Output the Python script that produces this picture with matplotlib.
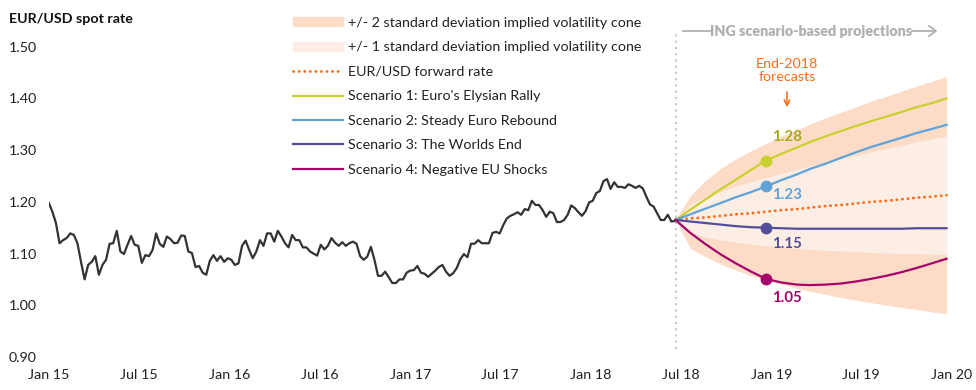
import matplotlib
matplotlib.use("Agg")
import matplotlib.pyplot as plt
from matplotlib.lines import Line2D
from matplotlib.patches import Patch
import pandas as pd

# weekly EUR/USD spot, Jan 2015 - Jun 2018
spot = [
    1.198, 1.181, 1.159, 1.120, 1.126, 1.130, 1.139, 1.136, 1.120, 1.084,
    1.050, 1.078, 1.084, 1.095, 1.059, 1.078, 1.088, 1.119, 1.120, 1.144,
    1.104, 1.099, 1.117, 1.134, 1.117, 1.115, 1.082, 1.097, 1.095, 1.107,
    1.139, 1.119, 1.113, 1.133, 1.128, 1.120, 1.121, 1.135, 1.134, 1.104,
    1.101,
    1.074, 1.076, 1.063, 1.059, 1.086, 1.097, 1.086, 1.095, 1.084, 1.091,
    1.088, 1.078, 1.081, 1.115, 1.125, 1.107, 1.091, 1.104, 1.126, 1.115,
    1.139, 1.139, 1.123, 1.144, 1.133, 1.120, 1.112, 1.136, 1.126, 1.126,
    1.112, 1.112, 1.104, 1.100, 1.096, 1.117, 1.108,
    1.115, 1.130, 1.121, 1.115, 1.122, 1.115, 1.120, 1.123, 1.119, 1.095,
    1.088, 1.094, 1.113, 1.088, 1.057, 1.057, 1.065, 1.054, 1.043, 1.043,
    1.050, 1.050, 1.063, 1.067, 1.068, 1.076, 1.063, 1.061, 1.055, 1.061,
    1.067, 1.074, 1.078, 1.065, 1.057, 1.062, 1.072, 1.089, 1.099, 1.093,
    1.119, 1.119, 1.126, 1.120, 1.120, 1.120, 1.140,
    1.142, 1.139, 1.155, 1.168, 1.173, 1.176, 1.180, 1.175, 1.186, 1.184,
    1.202, 1.194, 1.194, 1.184, 1.171, 1.181, 1.178, 1.161, 1.161, 1.165,
    1.175, 1.193, 1.188, 1.180, 1.173, 1.182, 1.199, 1.202, 1.217, 1.221,
    1.240, 1.244, 1.225, 1.238, 1.229, 1.229, 1.227, 1.234, 1.231, 1.227,
    1.231, 1.226, 1.210, 1.195, 1.191, 1.178, 1.165, 1.165, 1.175, 1.162,
    1.163,
]

# monthly projections, Jun 2018 - Dec 2019
forward = [1.165, 1.168, 1.170, 1.173, 1.176, 1.178, 1.181, 1.184, 1.186, 1.189,
           1.192, 1.194, 1.197, 1.200, 1.202, 1.205, 1.208, 1.210, 1.213]
upper_2sd = [1.165, 1.212, 1.242, 1.265, 1.283, 1.299, 1.313, 1.327, 1.339, 1.351,
             1.363, 1.373, 1.384, 1.395, 1.404, 1.414, 1.424, 1.433, 1.442]
lower_2sd = [1.165, 1.110, 1.094, 1.079, 1.068, 1.057, 1.049, 1.041, 1.033, 1.027,
             1.021, 1.015, 1.010, 1.005, 1.000, 0.996, 0.992, 0.987, 0.984]
upper_1sd = [1.165, 1.195, 1.208, 1.220, 1.230, 1.239, 1.247, 1.255, 1.263, 1.270,
             1.277, 1.284, 1.290, 1.297, 1.303, 1.309, 1.316, 1.322, 1.327]
lower_1sd = [1.165, 1.141, 1.132, 1.126, 1.122, 1.118, 1.115, 1.112, 1.110, 1.108,
             1.106, 1.105, 1.104, 1.102, 1.101, 1.100, 1.100, 1.099, 1.098]
scen1 = [1.165, 1.185, 1.205, 1.225, 1.243, 1.262, 1.280, 1.293, 1.305, 1.316,
         1.327, 1.337, 1.347, 1.356, 1.365, 1.374, 1.383, 1.391, 1.400]
scen2 = [1.165, 1.176, 1.187, 1.198, 1.209, 1.219, 1.230, 1.242, 1.253, 1.264,
         1.274, 1.285, 1.296, 1.306, 1.315, 1.324, 1.333, 1.341, 1.349]
scen3 = [1.165, 1.162, 1.159, 1.156, 1.153, 1.151, 1.150, 1.149, 1.148, 1.148,
         1.148, 1.148, 1.148, 1.148, 1.148, 1.148, 1.149, 1.149, 1.149]
scen4 = [1.165, 1.140, 1.118, 1.098, 1.081, 1.065, 1.051, 1.044, 1.040, 1.039,
         1.040, 1.042, 1.046, 1.051, 1.057, 1.064, 1.072, 1.081, 1.090]
end2018 = [1.28, 1.23, 1.15, 1.05]

scen_names = ["Scenario 1: Euro's Elysian Rally", "Scenario 2: Steady Euro Rebound",
              "Scenario 3: The Worlds End", "Scenario 4: Negative EU Shocks"]
scen_colors = ["#c9d12f", "#5fa3d9", "#524e9b", "#a5056b"]
label_colors = ["#a4ac1c", "#5fa3d9", "#524e9b", "#a5056b"]
tick_labels = ["Jan 15", "Jul 15", "Jan 16", "Jul 16", "Jan 17", "Jul 17",
               "Jan 18", "Jul 18", "Jan 19", "Jul 19", "Jan 20"]

plt.rcParams["font.family"] = ["Lato", "DejaVu Sans"]
FS = 10.3

hist_dates = pd.date_range("2015-01-01", "2018-06-20", periods=len(spot))
proj_dates = pd.date_range("2018-06-01", periods=len(forward), freq="MS") + pd.Timedelta(days=20)

W, H = 976, 390
fig = plt.figure(figsize=(W / 100, H / 100), dpi=100)
ax = fig.add_axes([48.8 / W, 22.7 / H, 903.2 / W, 341.2 / H])

cone2_c, cone1_c = "#fddcc7", "#fdeee5"
ax.fill_between(proj_dates, lower_2sd, upper_2sd, color=cone2_c, lw=0)
ax.fill_between(proj_dates, lower_1sd, upper_1sd, color=cone1_c, lw=0)

ax.plot(hist_dates, spot, color="#333333", lw=1.6, solid_joinstyle="round")
ax.plot(proj_dates, forward, color="#ff6a13", lw=2, linestyle=(0, (0.1, 1.9)),
        dash_capstyle="round")
for vals, c in zip([scen1, scen2, scen3, scen4], scen_colors):
    ax.plot(proj_dates, vals, color=c, lw=1.6)

# end-2018 markers and labels
offsets = [(15, 17), (15, -6), (15, -11.5), (15, -13.5)]
for v, c, lc, off in zip(end2018, scen_colors, label_colors, offsets):
    ax.plot(proj_dates[6], v, "o", color=c, ms=7.5, zorder=5)
    ax.annotate(f"{v:.2f}", (proj_dates[6], v), xytext=off, textcoords="offset points",
                ha="center", va="center", color=lc, fontsize=FS + 0.5, fontweight="bold")

ax.axvline(proj_dates[0], ymin=0.055, ymax=0.985, color="#c8c8c8", lw=1.5,
           linestyle=(0, (1, 2)), zorder=0)

ax.set_xlim(pd.Timestamp("2015-01-01"), pd.Timestamp("2020-01-01"))
ax.set_ylim(0.88, 1.54)
ticks = pd.date_range("2015-01-01", "2020-01-01", freq="6MS")
ax.set_xticks(ticks)
ax.set_xticklabels(tick_labels, fontsize=FS, color="#222222")
ax.set_yticks([0.9, 1.0, 1.1, 1.2, 1.3, 1.4, 1.5])
ax.set_yticklabels([f"{v:.2f}" for v in [0.9, 1.0, 1.1, 1.2, 1.3, 1.4, 1.5]],
                   fontsize=FS, color="#222222", ha="left")
ax.tick_params(axis="both", length=0)
ax.tick_params(axis="x", pad=1)
ax.tick_params(axis="y", pad=28.7)
for s in ax.spines.values():
    s.set_visible(False)

handles = [Patch(color=cone2_c), Patch(color=cone1_c),
           Line2D([], [], color="#ff6a13", lw=2, linestyle=(0, (0.1, 1.9)),
                  dash_capstyle="round")]
handles += [Line2D([], [], color=c, lw=1.6) for c in scen_colors]
labels = ["+/- 2 standard deviation implied volatility cone",
          "+/- 1 standard deviation implied volatility cone",
          "EUR/USD forward rate"] + scen_names
leg = fig.legend(handles, labels, loc="upper left", bbox_to_anchor=(293 / W, 1 - 17 / H),
                 frameon=False, fontsize=FS, handlelength=3.5, handleheight=0.6,
                 handletextpad=0.35, labelspacing=0.87, borderpad=0, borderaxespad=0)
for t in leg.get_texts():
    t.set_color("#222222")

fig.text(9 / W, 1 - 19 / H, "EUR/USD spot rate", fontsize=FS, fontweight="bold",
         va="center", ha="left", color="#111111")

# projection header
gray = "#b0b0b0"
fig.text(811 / W, 1 - 31 / H, "ING scenario-based projections", fontsize=FS,
         fontweight="heavy", color=gray, ha="center", va="center")
fig.add_artist(Line2D([683 / W, 710 / W], [1 - 31 / H] * 2, color=gray, lw=1.3))
fig.add_artist(Line2D([912 / W, 935 / W], [1 - 31 / H] * 2, color=gray, lw=1.3))
fig.add_artist(Line2D([929 / W, 936 / W, 929 / W], [1 - 26 / H, 1 - 31 / H, 1 - 36 / H],
                      color=gray, lw=1.3))

fig.text(787 / W, 1 - 70.5 / H, "End-2018\nforecasts", fontsize=FS, color="#ff6a13",
         ha="center", va="center", linespacing=1.15)
ax.annotate("", xy=(787 / W, 1 - 110 / H), xytext=(787 / W, 1 - 89 / H),
            xycoords="figure fraction", textcoords="figure fraction",
            arrowprops=dict(arrowstyle="->", color="#ff6a13", lw=1.1))

fig.savefig("out.png", dpi=100)
